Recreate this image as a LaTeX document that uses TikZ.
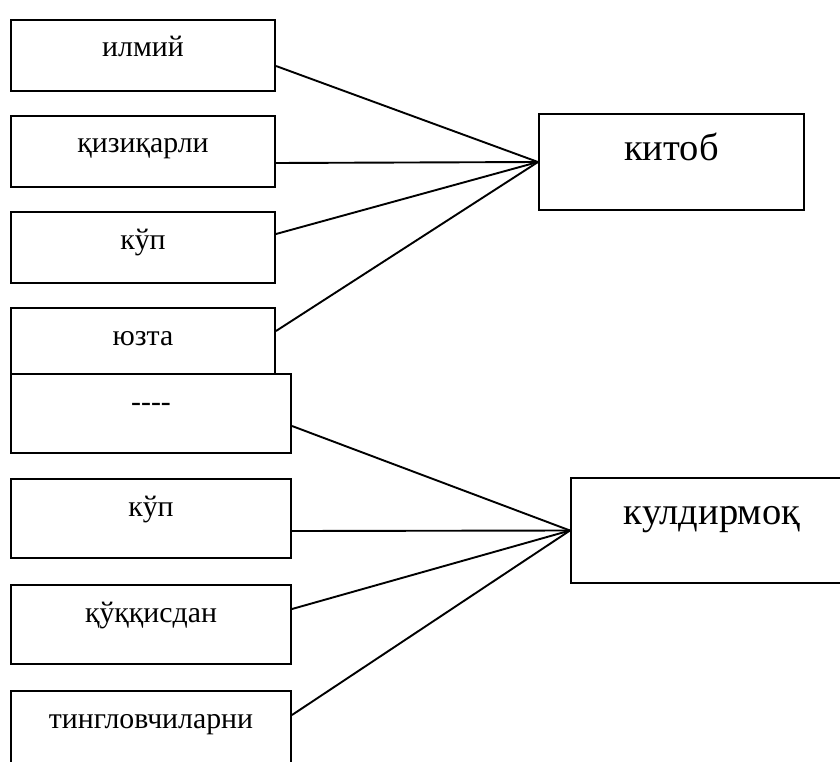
\documentclass[tikz,border=0pt]{standalone}
\usepackage{fontspec}
\setmainfont{Liberation Serif}

\begin{document}
\begin{tikzpicture}[x=1pt,y=-1pt,
      word/.style={draw,fill=white,line width=2pt,inner xsep=0pt,inner ysep=0pt,anchor=north west,font=\fontsize{29.8}{32}\selectfont},
      smallbox/.style={word,minimum width=264pt,text height=37pt,text depth=34pt},
      widebox/.style={word,minimum width=280pt,text height=37pt,text depth=42pt},
      headbox/.style={word,font=\fontsize{38.5}{41}\selectfont},
      link/.style={line width=1.9pt}]
         \clip (0,0) rectangle (840,762);

         % upper group
         \node[smallbox] (ilmiy) at (10,19) {илмий};
         \node[smallbox] (qiziqarli) at (10,115) {қизиқарли};
         \node[smallbox] (kup1) at (10,211) {кўп};
         \node[smallbox] (yuzta) at (10,307) {юзта};
         \node[headbox,minimum width=265pt,text height=47pt,text depth=49pt] (kitob) at (538,113) {китоб};

         % lower group
         \node[widebox] (blank) at (10,373) {-{}-{}-{}-};
         \node[widebox] (kup2) at (10,478) {кўп};
         \node[widebox] (qiqqisdan) at (10,584) {қўққисдан};
         \node[widebox] (tinglov) at (10,690) {тингловчиларни};
         \node[headbox,minimum width=282pt,text height=46pt,text depth=59pt] (kuldirmoq) at (570,477) {кулдирмоқ};

         \draw[link] ([yshift=-10.5pt]ilmiy.east) -- (kitob.west);
         \draw[link] ([yshift=-11.5pt]qiziqarli.east) -- (kitob.west);
         \draw[link] ([yshift=13.5pt]kup1.east) -- (kitob.west);
         \draw[link] ([yshift=12.5pt]yuzta.east) -- (kitob.west);

         \draw[link] ([yshift=-12.5pt]blank.east) -- (kuldirmoq.west);
         \draw[link] ([yshift=-12.5pt]kup2.east) -- (kuldirmoq.west);
         \draw[link] ([yshift=15.5pt]qiqqisdan.east) -- (kuldirmoq.west);
         \draw[link] ([yshift=15.5pt]tinglov.east) -- (kuldirmoq.west);
      \end{tikzpicture}
\end{document}
